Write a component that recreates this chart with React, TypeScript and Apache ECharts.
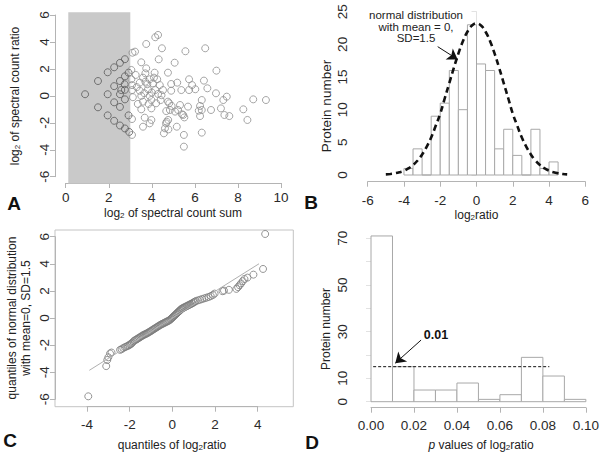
import React, { useEffect, useRef } from 'react';
import * as echarts from 'echarts';

// ---------- Panel A : MA-like scatter ----------
const aShadeX = [0.12, 3.0];
const aShadeY = [-6.5, 6.2];
const aLowSumPoints: [number, number][] = [
  [0.9, 0.12], [1.5, 1.1], [1.5, -0.85], [1.95, 1.75], [1.95, 0.12], [1.95, -1.45],
  [2.25, 2.12], [2.25, 0.72], [2.25, -0.48], [2.25, -1.85], [2.52, 2.45], [2.52, 1.1],
  [2.52, 0.12], [2.52, -0.82], [2.52, -2.2], [2.75, 2.72], [2.75, 1.45], [2.75, 0.45],
  [2.75, -0.26], [2.75, -2.42], [2.92, 1.72], [2.92, -1.45], [2.95, -2.68], [2.58, 0.43],
  [2.74, 0.86],
];
const aPoints: [number, number][] = [
  [3.08, -2.9], [3.1, 3.2], [3.22, 3.28], [3.05, 1.92], [3.05, 1.23], [3.08, 0.8], [3.08, 0.43],
  [3.12, -0.1], [3.08, -1.72], [3.44, 0.98], [3.44, 0.38], [3.51, 2.49], [3.51, 0.0], [3.51, -1.0],
  [3.59, 1.35], [3.59, -0.43], [3.59, -2.29], [3.67, -1.62], [3.7, 1.67], [3.74, 3.85], [3.74, 2.04],
  [3.79, 0.86], [3.82, 0.49], [3.9, 1.23], [3.9, 0.0], [3.9, -2.04], [3.98, -0.31], [3.98, -0.93],
  [3.98, -1.79], [4.05, 0.93], [4.13, 1.72], [4.16, 4.35], [4.16, 0.43], [4.25, 1.23], [4.29, 4.52],
  [4.29, 0.14], [4.32, 2.71], [4.37, 0.8], [4.41, -0.31], [4.47, 3.53], [4.52, 0.43], [4.56, -2.78],
  [4.61, -2.41], [4.67, -1.13], [4.69, -1.92], [4.75, 1.72], [4.75, -0.43], [4.76, -1.79], [4.81, -0.55],
  [4.84, -1.05], [4.9, 0.88], [4.9, 0.38], [4.92, -0.75], [5.06, 2.46], [5.08, -1.17], [5.16, -2.29],
  [5.18, 0.98], [5.22, -1.05], [5.31, -0.68], [5.37, 0.43], [5.4, -1.37], [5.46, -1.42], [5.49, -2.9],
  [5.49, -3.77], [5.51, -1.6], [5.56, 3.31], [5.68, -0.8], [5.73, 1.23], [5.73, 0.43], [5.87, 0.8],
  [6.02, 0.49], [6.18, -1.1], [6.24, -0.75], [6.24, -1.5], [6.32, -0.31], [6.32, -1.05], [6.32, -2.73],
  [6.42, 1.13], [6.48, 3.53], [6.58, 0.56], [6.75, -1.05], [6.98, 0.19], [7.0, 1.87], [7.21, -0.93],
  [7.32, -0.31], [7.37, -1.42], [7.48, -0.06], [7.6, -1.5], [8.25, -1.0], [8.44, -1.79], [8.71, -0.26],
  [9.3, -0.31], [3.3, 0.65], [3.65, 0.2], [3.85, -0.6], [4.0, 0.25], [4.2, -0.55], [3.35, -0.6],
  [4.45, 0.05], [3.7, 1.05], [4.1, 1.35], [3.25, 1.55], [4.77, -2.49], [4.66, -2.04],
];

// ---------- Panel B : histogram of log2 ratio ----------
const bBinStarts = [-4, -3.5, -3, -2.5, -2, -1.5, -1, -0.5, 0, 0.5, 1, 1.5, 2, 2.5, 3, 3.5, 4];
const bBinWidth = 0.5;
const bCounts = [1, 4, 0, 9, 11, 16, 10, 23, 17, 16, 4, 7, 3, 0, 7, 1, 2];
const bCurveX = [-5, -4.75, -4.5, -4.25, -4, -3.75, -3.5, -3.25, -3, -2.75, -2.5, -2.25, -2, -1.75, -1.5, -1.25, -1, -0.75, -0.5, -0.25, 0,
  0.25, 0.5, 0.75, 1, 1.25, 1.5, 1.75, 2, 2.25, 2.5, 2.75, 3, 3.25, 3.5, 3.75, 4, 4.25, 4.5, 4.75, 5];
const bCurveY = [0.09, 0.15, 0.26, 0.42, 0.65, 1.02, 1.53, 2.22, 3.14, 4.32, 5.74, 7.53, 9.4, 11.75, 14.07, 16.4, 18.57, 20.47, 21.93, 22.88, 23.2,
  22.88, 21.93, 20.47, 18.57, 16.4, 14.07, 11.75, 9.4, 7.53, 5.74, 4.32, 3.14, 2.22, 1.53, 1.02, 0.65, 0.42, 0.26, 0.15, 0.09];
const bArrow = [[-2.14, 19.65], [-1.04, 17.7]];
const bNote = ['normal distribution', 'with mean = 0,', 'SD=1.5'];

// ---------- Panel C : Q-Q plot ----------
const cSampleQ = [-3.94, -3.1, -3.05, -3.0, -2.92, -2.85, -2.45, -2.38, -2.3, -2.22, -2.15, -2.08, -2.02, -1.98, -1.92,
  -1.88, -1.82, -1.76, -1.7, -1.65, -1.6, -1.55, -1.5, -1.45, -1.4, -1.35, -1.3, -1.25, -1.2, -1.15, -1.1, -1.05, -1.0,
  -0.95, -0.9, -0.85, -0.8, -0.75, -0.7, -0.65, -0.6, -0.55, -0.5, -0.45, -0.4, -0.35, -0.3, -0.25, -0.2, -0.15, -0.1,
  -0.06, -0.02, 0.02, 0.06, 0.1, 0.14, 0.18, 0.22, 0.26, 0.3, 0.34, 0.38, 0.42, 0.46, 0.5, 0.55, 0.6, 0.65, 0.7, 0.75,
  0.8, 0.85, 0.9, 0.95, 1.0, 1.05, 1.1, 1.2, 1.3, 1.4, 1.5, 1.6, 1.7, 1.8, 1.9, 1.98, 2.35, 2.42, 2.65, 3.0, 3.08, 3.15,
  3.22, 3.3, 3.38, 3.52, 3.8, 4.25, 4.35];
const cTheoQ = [-5.78, -3.55, -3.1, -2.9, -2.62, -2.55, -2.35, -2.3, -2.22, -2.15, -2.1, -2.05, -2.0, -1.95, -1.9,
  -1.82, -1.72, -1.65, -1.6, -1.55, -1.5, -1.45, -1.4, -1.35, -1.3, -1.25, -1.22, -1.18, -1.14, -1.1, -1.05, -1.0, -0.96,
  -0.9, -0.85, -0.8, -0.75, -0.7, -0.65, -0.6, -0.55, -0.5, -0.46, -0.42, -0.38, -0.34, -0.3, -0.26, -0.22, -0.18, -0.12,
  -0.06, 0.0, 0.06, 0.12, 0.18, 0.24, 0.3, 0.36, 0.42, 0.48, 0.54, 0.6, 0.66, 0.7, 0.74, 0.78, 0.82, 0.86, 0.9, 0.94,
  0.98, 1.02, 1.06, 1.1, 1.15, 1.2, 1.25, 1.3, 1.35, 1.4, 1.45, 1.5, 1.55, 1.62, 1.7, 1.8, 1.98, 2.02, 2.08, 2.15, 2.28, 2.42,
  2.55, 2.72, 2.88, 2.98, 3.2, 3.62, 6.2];
const cRefLine = [[-3.89, -3.86], [4.19, 4.13]];

// ---------- Panel D : histogram of p values ----------
const dBinStarts = [0, 0.01, 0.02, 0.03, 0.04, 0.05, 0.06, 0.07, 0.08, 0.09];
const dBinWidth = 0.01;
const dCounts = [71, 15, 5, 5, 8, 1, 3, 19, 11, 1];
const dCutoffLine = [[0.001, 15], [0.083, 15]];
const dArrow = [[0.0233, 26.4], [0.0113, 16.5]];
const dHiddenYLabels = [20, 40, 60];

const FONT = 'Liberation Sans, Arial, Helvetica, sans-serif';
const TICK_FS = 13.5;
const SUB = { fontSize: 8, lineHeight: 6, verticalAlign: 'bottom' as const, fontFamily: FONT, fill: '#222' };

function axisBase(extra: any) {
  return {
    axisLine: { show: true, onZero: false, lineStyle: { color: '#b4b4b4', width: 1 } },
    axisTick: { show: true, length: 5, lineStyle: { color: '#b4b4b4' } },
    splitLine: { show: false },
    ...extra,
    axisLabel: {
      color: '#2a2a2a', fontSize: TICK_FS, fontFamily: FONT, showMinLabel: true, showMaxLabel: true, hideOverlap: false,
      ...(extra.axisLabel || {}),
    },
  };
}

function histRender(params: any, api: any) {
  const x0 = api.value(0);
  const x1 = api.value(1);
  const c = api.value(2);
  const p0 = api.coord([x0, c]);
  const p1 = api.coord([x1, 0]);
  return {
    type: 'rect',
    shape: { x: p0[0], y: p0[1], width: p1[0] - p0[0], height: p1[1] - p0[1] },
    style: { fill: '#ffffff', stroke: '#a8a8a8', lineWidth: 1 },
  };
}

function txt(text: string, x: number, y: number, opts: any = {}) {
  return {
    type: 'text',
    x, y,
    rotation: opts.rotation || 0,
    style: {
      text,
      fill: opts.fill || '#222',
      fontSize: opts.size || 12,
      fontWeight: opts.weight || 'normal',
      fontFamily: FONT,
      align: 'center',
      verticalAlign: 'middle',
      rich: opts.rich,
    },
  };
}

export default function App() {
  const ref = useRef<HTMLDivElement>(null);
  useEffect(() => {
    if (!ref.current) return;
    const chart = echarts.init(ref.current, undefined, { renderer: 'svg' });

    const bBins = bBinStarts.map((s, i) => [s, s + bBinWidth, bCounts[i]]);
    const dBins = dBinStarts.map((s, i) => [s, s + dBinWidth, dCounts[i]]);
    const bCurve = bCurveX.map((x, i) => [x, bCurveY[i]]);
    const cPts = cSampleQ.map((x, i) => [x, cTheoQ[i]]);

    const richMain = {
      sub: SUB,
      it: { fontStyle: 'italic', fontSize: 12, fontFamily: FONT, fill: '#222' },
    };

    const option: any = {
      animation: false,
      backgroundColor: '#ffffff',
      grid: [
        { left: 65.7, top: 15, width: 215.3, height: 161.7 },
        { left: 367.7, top: 11.7, width: 217.6, height: 163.3 },
        { left: 87, top: 236.7, width: 170.7, height: 162.6 },
        { left: 371, top: 238.3, width: 221.7, height: 163.4 },
        { left: 55, top: 230, width: 238.3, height: 176.7, show: true, borderColor: '#c4c4c4', borderWidth: 1, backgroundColor: 'transparent' },
      ],
      xAxis: [
        axisBase({ type: 'value', gridIndex: 0, min: 0, max: 10, interval: 2, offset: 6.3, axisLabel: { margin: 7 } }),
        axisBase({ type: 'value', gridIndex: 1, min: -6, max: 6, interval: 2, offset: 6.7, axisLabel: { margin: 12 } }),
        axisBase({ type: 'value', gridIndex: 2, min: -4, max: 4, interval: 2, offset: 7.4, axisLabel: { margin: 11 } }),
        axisBase({ type: 'value', gridIndex: 3, min: 0, max: 0.1, interval: 0.02, offset: 6, axisLabel: { margin: 11, formatter: (v: number) => v.toFixed(2) } }),
        { type: 'value', gridIndex: 4, min: 0, max: 1, show: false },
      ],
      yAxis: [
        axisBase({ type: 'value', gridIndex: 0, min: -6, max: 6, interval: 2, offset: 10.7, axisLabel: { rotate: 90, margin: 4 } }),
        axisBase({ type: 'value', gridIndex: 1, min: 0, max: 25, interval: 5, offset: 14.7, axisLine: { show: true, lineStyle: { color: '#e2e2e2' } }, axisTick: { show: true, length: 5, lineStyle: { color: '#e2e2e2' } }, axisLabel: { rotate: 90, margin: 4 } }),
        axisBase({ type: 'value', gridIndex: 2, min: -6, max: 6, interval: 2, offset: 32, axisLabel: { rotate: 90, margin: 4 } }),
        axisBase({ type: 'value', gridIndex: 3, min: 0, max: 70, interval: 10, offset: 18, axisLine: { show: true, lineStyle: { color: '#e2e2e2' } }, axisTick: { show: true, length: 5, lineStyle: { color: '#e2e2e2' } }, axisLabel: { rotate: 90, margin: 4, formatter: (v: number) => (dHiddenYLabels.includes(v) ? '' : String(v)) } }),
        { type: 'value', gridIndex: 4, min: 0, max: 1, show: false },
      ],
      series: [
        // Panel A
        {
          type: 'custom', xAxisIndex: 0, yAxisIndex: 0, clip: false, silent: true,
          data: [[aShadeX[0], aShadeX[1], aShadeY[0], aShadeY[1]]],
          renderItem: (params: any, api: any) => {
            const p0 = api.coord([api.value(0), api.value(3)]);
            const p1 = api.coord([api.value(1), api.value(2)]);
            return { type: 'rect', shape: { x: p0[0], y: p0[1], width: p1[0] - p0[0], height: p1[1] - p0[1] }, style: { fill: '#c9c9c9' } };
          },
        },
        {
          type: 'scatter', xAxisIndex: 0, yAxisIndex: 0, data: aLowSumPoints, symbol: 'circle', symbolSize: 7, clip: false,
          itemStyle: { color: 'rgba(0,0,0,0)', borderColor: '#5a5a5a', borderWidth: 1 },
        },
        {
          type: 'scatter', xAxisIndex: 0, yAxisIndex: 0, data: aPoints, symbol: 'circle', symbolSize: 7, clip: false,
          itemStyle: { color: 'rgba(0,0,0,0)', borderColor: '#8e8e8e', borderWidth: 1 },
        },
        // Panel B
        {
          type: 'custom', xAxisIndex: 1, yAxisIndex: 1, clip: false, data: bBins, renderItem: histRender,
          encode: { x: [0, 1], y: 2 },
        },
        {
          type: 'line', xAxisIndex: 1, yAxisIndex: 1, data: bCurve, smooth: true, showSymbol: false, clip: false,
          lineStyle: { color: '#111', width: 2.6, type: [6, 4] },
          markLine: {
            silent: true, symbol: ['none', 'arrow'], symbolSize: 10, label: { show: false },
            lineStyle: { type: 'solid', color: '#111', width: 1 },
            data: [[{ coord: bArrow[0] }, { coord: bArrow[1] }]],
          },
        },
        // Panel C
        {
          type: 'line', xAxisIndex: 2, yAxisIndex: 2, data: cRefLine, showSymbol: false, clip: false,
          lineStyle: { color: '#b0b0b0', width: 1 },
        },
        {
          type: 'scatter', xAxisIndex: 2, yAxisIndex: 2, data: cPts, symbol: 'circle', symbolSize: 7, clip: false,
          itemStyle: { color: 'rgba(0,0,0,0)', borderColor: '#7a7a7a', borderWidth: 1 },
        },
        // Panel D
        {
          type: 'custom', xAxisIndex: 3, yAxisIndex: 3, clip: false, data: dBins, renderItem: histRender,
          encode: { x: [0, 1], y: 2 },
        },
        {
          type: 'line', xAxisIndex: 3, yAxisIndex: 3, data: dCutoffLine, showSymbol: false, clip: false,
          lineStyle: { color: '#111', width: 1, type: [3, 2] },
          markLine: {
            silent: true, symbol: ['none', 'arrow'], symbolSize: 10, label: { show: false },
            lineStyle: { type: 'solid', color: '#111', width: 1 },
            data: [[{ coord: dArrow[0] }, { coord: dArrow[1] }]],
          },
        },
      ],
      graphic: [
        // Panel A texts
        txt('log{sub|2} of spectral count sum', 173, 213, { rich: richMain }),
        txt('log{sub|2} of spectral count ratio', 15, 96, { rotation: Math.PI / 2, rich: richMain }),
        txt('A', 14, 203, { size: 19, weight: 'bold', fill: '#111' }),
        // Panel B texts
        txt('log{sub|2}ratio', 476.5, 215, { rich: richMain }),
        txt('Protein number', 326, 106, { rotation: Math.PI / 2, size: 13.5 }),
        txt('B', 311, 202, { size: 19, weight: 'bold', fill: '#111' }),
        txt(bNote[0], 416, 15, { size: 11.5 }),
        txt(bNote[1], 416, 26.7, { size: 11.5 }),
        txt(bNote[2], 416, 37.7, { size: 11.5 }),
        // Panel C texts
        txt('quantiles of log{sub|2}ratio', 172, 445, { rich: richMain }),
        txt('quantiles of normal distribution', 12, 318, { rotation: Math.PI / 2 }),
        txt('with mean=0, SD=1.5', 26, 318, { rotation: Math.PI / 2 }),
        txt('C', 10, 440, { size: 19, weight: 'bold', fill: '#111' }),
        // Panel D texts
        txt('{it|p} values of log{sub|2}ratio', 481, 445, { rich: richMain }),
        txt('Protein number', 326, 329, { rotation: Math.PI / 2 }),
        txt('D', 312, 442, { size: 19, weight: 'bold', fill: '#111' }),
        txt('0.01', 436, 335, { size: 12.5, weight: 'bold', fill: '#111' }),
      ],
    };
    chart.setOption(option);
    return () => chart.dispose();
  }, []);
  return (
    <div
      ref={ref}
      style={{ position: 'fixed', left: 0, top: 0, width: 602, height: 461, background: '#fff' }}
    />
  );
}
